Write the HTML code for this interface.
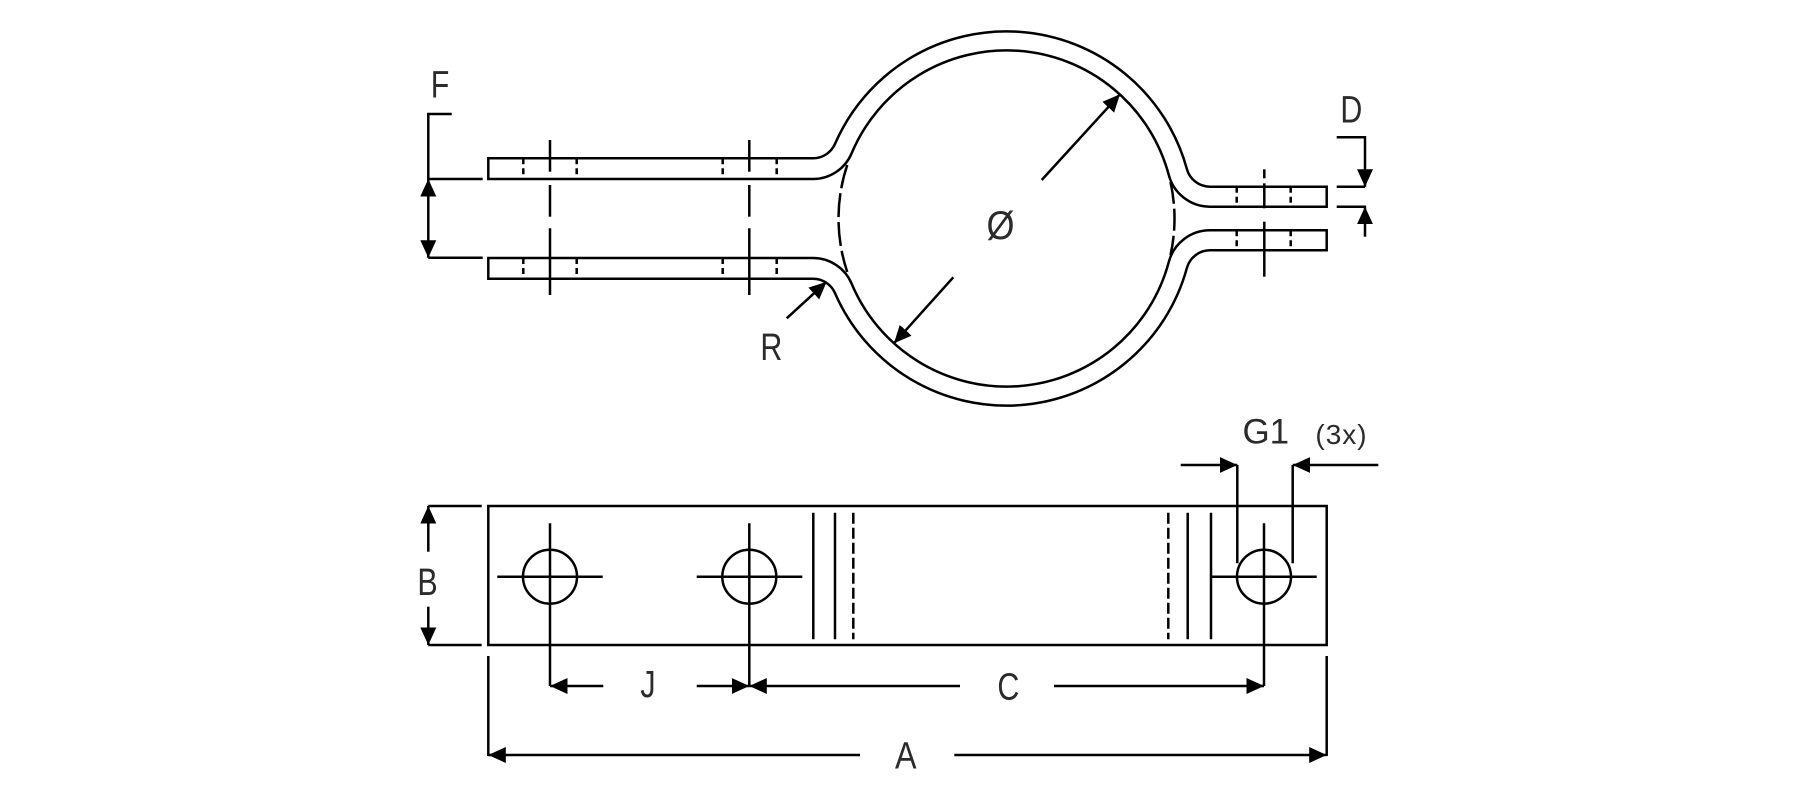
<!DOCTYPE html>
<html>
<head>
<meta charset="utf-8">
<style>
  html, body { margin:0; padding:0; background:#fff; }
  svg { display:block; }
  text { font-family: "Liberation Sans", sans-serif; fill:#2b2b2b; }
</style>
</head>
<body>
<svg width="1816" height="800" viewBox="0 0 1816 800" xmlns="http://www.w3.org/2000/svg">
  <defs>
    <marker id="ar" markerUnits="userSpaceOnUse" markerWidth="19" markerHeight="17" refX="17.5" refY="8" orient="auto-start-reverse">
      <path d="M0,0 L17.5,8 L0,16 z" fill="#000"/>
    </marker>
  </defs>

  <g fill="none" stroke="#000" stroke-width="2.5">
    <!-- TOP VIEW: upper half -->
    <path d="M488.3 158.3 L813 158.3 A24.04 24.04 0 0 0 835.0 143.9 A187 187 0 0 1 1186.9 169.05 A24 24 0 0 0 1210 186.7 L1326.7 186.7 L1326.7 206.7 L1210 206.7 A42.66 42.66 0 0 1 1168.8 175.07 A168 168 0 0 0 851.6 153.35 A41.9 41.9 0 0 1 813 179 L488.3 179 Z"/>
    <!-- lower half mirrored -->
    <path transform="matrix(1 0 0 -1 0 437)" d="M488.3 158.3 L813 158.3 A24.04 24.04 0 0 0 835.0 143.9 A187 187 0 0 1 1186.9 169.05 A24 24 0 0 0 1210 186.7 L1326.7 186.7 L1326.7 206.7 L1210 206.7 A42.66 42.66 0 0 1 1168.8 175.07 A168 168 0 0 0 851.6 153.35 A41.9 41.9 0 0 1 813 179 L488.3 179 Z"/>

    <!-- hidden inner arcs -->
    <path d="M847.25 165 A168 168 0 0 0 847.25 272" stroke-dasharray="24 5"/>
    <path d="M1170.5 182 A168 168 0 0 1 1170.5 255" stroke-dasharray="22 5"/>

    <!-- tabs hidden hole lines -->
    <g stroke-dasharray="6 4">
      <line x1="523.3" y1="158.3" x2="523.3" y2="179"/>
      <line x1="576.7" y1="158.3" x2="576.7" y2="179"/>
      <line x1="722.7" y1="158.3" x2="722.7" y2="179"/>
      <line x1="776.7" y1="158.3" x2="776.7" y2="179"/>
      <line x1="523.3" y1="258" x2="523.3" y2="278.7"/>
      <line x1="576.7" y1="258" x2="576.7" y2="278.7"/>
      <line x1="722.7" y1="258" x2="722.7" y2="278.7"/>
      <line x1="776.7" y1="258" x2="776.7" y2="278.7"/>
      <line x1="1236.7" y1="186.7" x2="1236.7" y2="206.7"/>
      <line x1="1290.7" y1="186.7" x2="1290.7" y2="206.7"/>
      <line x1="1236.7" y1="230.3" x2="1236.7" y2="250.3"/>
      <line x1="1290.7" y1="230.3" x2="1290.7" y2="250.3"/>
    </g>

    <!-- center lines top view -->
    <line x1="550" y1="140" x2="550" y2="171.7"/>
    <line x1="550" y1="185" x2="550" y2="216.7"/>
    <line x1="550" y1="228.3" x2="550" y2="295"/>
    <line x1="749.3" y1="140" x2="749.3" y2="171.7"/>
    <line x1="749.3" y1="185" x2="749.3" y2="216.7"/>
    <line x1="749.3" y1="228.3" x2="749.3" y2="295"/>
    <line x1="1264.3" y1="169.3" x2="1264.3" y2="178.3"/>
    <line x1="1264.3" y1="183.3" x2="1264.3" y2="208.3"/>
    <line x1="1264.3" y1="221.7" x2="1264.3" y2="276.7"/>

    <!-- F dimension -->
    <polyline points="451.7,114 428.3,114 428.3,179"/>
    <line x1="428.3" y1="179" x2="482.7" y2="179"/>
    <line x1="428.3" y1="257.7" x2="482.7" y2="257.7"/>
    <line x1="428.3" y1="179" x2="428.3" y2="257.7" marker-start="url(#ar)" marker-end="url(#ar)"/>

    <!-- D dimension -->
    <polyline points="1336.7,137.3 1365,137.3 1365,186.7" marker-end="url(#ar)"/>
    <line x1="1336.7" y1="186.7" x2="1365" y2="186.7"/>
    <line x1="1336.7" y1="206.7" x2="1366" y2="206.7"/>
    <line x1="1365" y1="236.7" x2="1365" y2="206.7" marker-end="url(#ar)"/>

    <!-- diameter arrows -->
    <line x1="1041.7" y1="180" x2="1120" y2="94.3" marker-end="url(#ar)"/>
    <line x1="953.3" y1="277.3" x2="894" y2="343.3" marker-end="url(#ar)"/>

    <!-- R arrow -->
    <line x1="786.7" y1="318.3" x2="826.7" y2="281.7" marker-end="url(#ar)"/>

    <!-- BOTTOM VIEW -->
    <rect x="488.3" y="506" width="838.4" height="139"/>

    <!-- B dimension -->
    <line x1="428.3" y1="506" x2="481.7" y2="506"/>
    <line x1="428.3" y1="645" x2="481.7" y2="645"/>
    <line x1="428.3" y1="551.7" x2="428.3" y2="506" marker-end="url(#ar)"/>
    <line x1="428.3" y1="606.7" x2="428.3" y2="645" marker-end="url(#ar)"/>

    <!-- holes -->
    <circle cx="550" cy="576.7" r="27"/>
    <circle cx="749.3" cy="576.7" r="27"/>
    <circle cx="1264" cy="576.7" r="27"/>
    <line x1="497.3" y1="576.7" x2="602.7" y2="576.7"/>
    <line x1="696.7" y1="576.7" x2="802.3" y2="576.7"/>
    <line x1="1211" y1="576.7" x2="1316.7" y2="576.7"/>
    <line x1="550" y1="523.3" x2="550" y2="686"/>
    <line x1="749.3" y1="523.3" x2="749.3" y2="686"/>
    <line x1="1264" y1="523.3" x2="1264" y2="686"/>

    <!-- bend lines -->
    <line x1="813.3" y1="512.7" x2="813.3" y2="639.3"/>
    <line x1="835" y1="512.7" x2="835" y2="639.3"/>
    <line x1="853.3" y1="512.7" x2="853.3" y2="639.3" stroke-dasharray="11 4"/>
    <line x1="1168.3" y1="512.7" x2="1168.3" y2="639.3" stroke-dasharray="11 4"/>
    <line x1="1187.7" y1="512.7" x2="1187.7" y2="639.3"/>
    <line x1="1211" y1="512.7" x2="1211" y2="639.3"/>

    <!-- J / C dimension -->
    <line x1="603.3" y1="686" x2="550" y2="686" marker-end="url(#ar)"/>
    <line x1="696.7" y1="686" x2="749.3" y2="686" marker-end="url(#ar)"/>
    <line x1="960" y1="686" x2="749.3" y2="686" marker-end="url(#ar)"/>
    <line x1="1054" y1="686" x2="1264" y2="686" marker-end="url(#ar)"/>

    <!-- A dimension -->
    <line x1="488.3" y1="656" x2="488.3" y2="756"/>
    <line x1="1326.7" y1="656" x2="1326.7" y2="756"/>
    <line x1="860" y1="755" x2="488.3" y2="755" marker-end="url(#ar)"/>
    <line x1="954.3" y1="755" x2="1326.7" y2="755" marker-end="url(#ar)"/>

    <!-- G1 dimension -->
    <line x1="1180.7" y1="465" x2="1237.3" y2="465" marker-end="url(#ar)"/>
    <line x1="1237.3" y1="465" x2="1237.3" y2="563.3"/>
    <line x1="1378.3" y1="465" x2="1292.7" y2="465" marker-end="url(#ar)"/>
    <line x1="1292.7" y1="465" x2="1292.7" y2="563.3"/>
  </g>

  <!-- Labels -->
  <g font-size="38" text-anchor="middle">
    <text transform="translate(440,97.7) scale(0.8,1)">F</text>
    <text transform="translate(1351.3,122.7) scale(0.8,1)">D</text>
    <text transform="translate(771.3,360) scale(0.8,1)">R</text>
    <text transform="translate(1000.5,239) scale(0.9,1)" font-size="40">Ø</text>
    <text transform="translate(427.5,595) scale(0.8,1)">B</text>
    <text transform="translate(648,697) scale(0.8,1)">J</text>
    <text transform="translate(1008.3,699.5) scale(0.8,1)">C</text>
    <text transform="translate(905.8,768.3) scale(0.85,1)">A</text>
  </g>
  <text x="1265.8" y="443.3" font-size="35" text-anchor="middle">G1</text>
  <text x="1341.5" y="444" font-size="28" text-anchor="middle" letter-spacing="1">(3x)</text>
</svg>
</body>
</html>
